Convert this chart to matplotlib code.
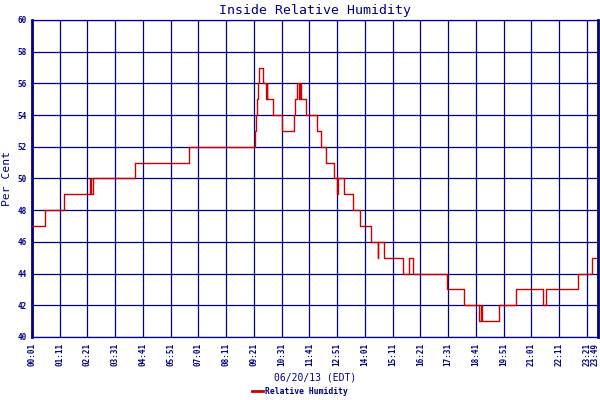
import matplotlib
matplotlib.use("Agg")
import matplotlib.pyplot as plt
from matplotlib.transforms import ScaledTranslation

NAVY = "#000080"
RED = "#CC0000"

# step change points (time of change, new reading)
change_times = [
    "00:01", "00:33", "01:22", "02:28", "02:31", "02:34", "04:20", "06:38",
    "09:23", "09:25", "09:28", "09:31", "09:34", "09:45", "09:52", "09:54",
    "09:55", "10:09", "10:32", "11:02", "11:05", "11:09", "11:14", "11:16",
    "11:20", "11:33", "12:00", "12:10", "12:23", "12:42", "12:51", "12:54",
    "13:08", "13:31", "13:48", "14:17", "14:33", "14:35", "14:48", "15:36",
    "15:51", "16:01", "17:29", "18:12", "18:49", "18:53", "18:56", "19:40",
    "20:22", "21:29", "21:39", "22:59", "23:35", "23:49",
]
humidity = [
    47, 48, 49, 50, 49, 50, 51, 52,
    53, 54, 55, 56, 57, 56, 55, 56,
    55, 54, 53, 54, 55, 56, 55, 56,
    55, 54, 53, 52, 51, 50, 49, 50,
    49, 48, 47, 46, 45, 46, 45, 44,
    45, 44, 43, 42, 41, 42, 41, 42,
    43, 42, 43, 44, 45, 45,
]

tick_labels = [
    "00:01", "01:11", "02:21", "03:31", "04:41", "05:51", "07:01", "08:11",
    "09:21", "10:31", "11:41", "12:51", "14:01", "15:11", "16:21", "17:31",
    "18:41", "19:51", "21:01", "22:11", "23:21", "23:49",
]
y_ticks = [40, 42, 44, 46, 48, 50, 52, 54, 56, 58, 60]


def to_minutes(hhmm):
    h, m = hhmm.split(":")
    return int(h) * 60 + int(m)


x = [to_minutes(t) for t in change_times]
xt = [to_minutes(t) for t in tick_labels]

mono = "DejaVu Sans Mono"

fig = plt.figure(figsize=(6, 4), dpi=100)
ax = fig.add_axes([0.0533, 0.1575, 0.9434, 0.7925])

ax.step(x, humidity, where="post", color=RED, lw=1.0, label="Relative Humidity", zorder=3)

ax.set_xlim(xt[0], xt[-1])
ax.set_ylim(40, 60)
ax.set_xticks(xt)
ax.set_xticklabels(tick_labels, rotation=90, fontfamily=mono, fontweight="bold",
                   fontsize=5.5, color=NAVY)
ax.set_yticks(y_ticks)
ax.set_yticklabels([str(v) for v in y_ticks], fontfamily=mono, fontweight="bold",
                   fontsize=5.5, color=NAVY)
ax.tick_params(length=0, pad=4)

# last label sits on the right edge; nudge it inside the picture
last = ax.get_xticklabels()[-1]
last.set_horizontalalignment("right")
last.set_transform(last.get_transform() + ScaledTranslation(1.5 / 100, 0, fig.dpi_scale_trans))

ax.grid(True, color=NAVY, lw=0.9, zorder=1)
ax.set_axisbelow(True)
for side, sp in ax.spines.items():
    sp.set_color(NAVY)
    sp.set_linewidth(0.9)
ax.spines["left"].set_linewidth(2.0)
ax.spines["right"].set_linewidth(2.0)

ax.set_title("Inside Relative Humidity", fontfamily=mono, fontsize=9.5, color=NAVY, pad=4)
ax.set_ylabel("Per Cent", fontfamily=mono, fontsize=8.2, color=NAVY, labelpad=4)
ax.set_xlabel("06/20/13 (EDT)", fontfamily=mono, fontsize=7, color=NAVY, labelpad=5)

leg = fig.legend(loc="lower center", bbox_to_anchor=(0.5, -0.008), frameon=False,
                 handlelength=1.4, handletextpad=0.3,
                 prop={"family": mono, "weight": "bold", "size": 5.8})
for h in leg.legend_handles:
    h.set_linewidth(2.0)
for t in leg.get_texts():
    t.set_color(NAVY)

fig.savefig("out.png", dpi=100)
